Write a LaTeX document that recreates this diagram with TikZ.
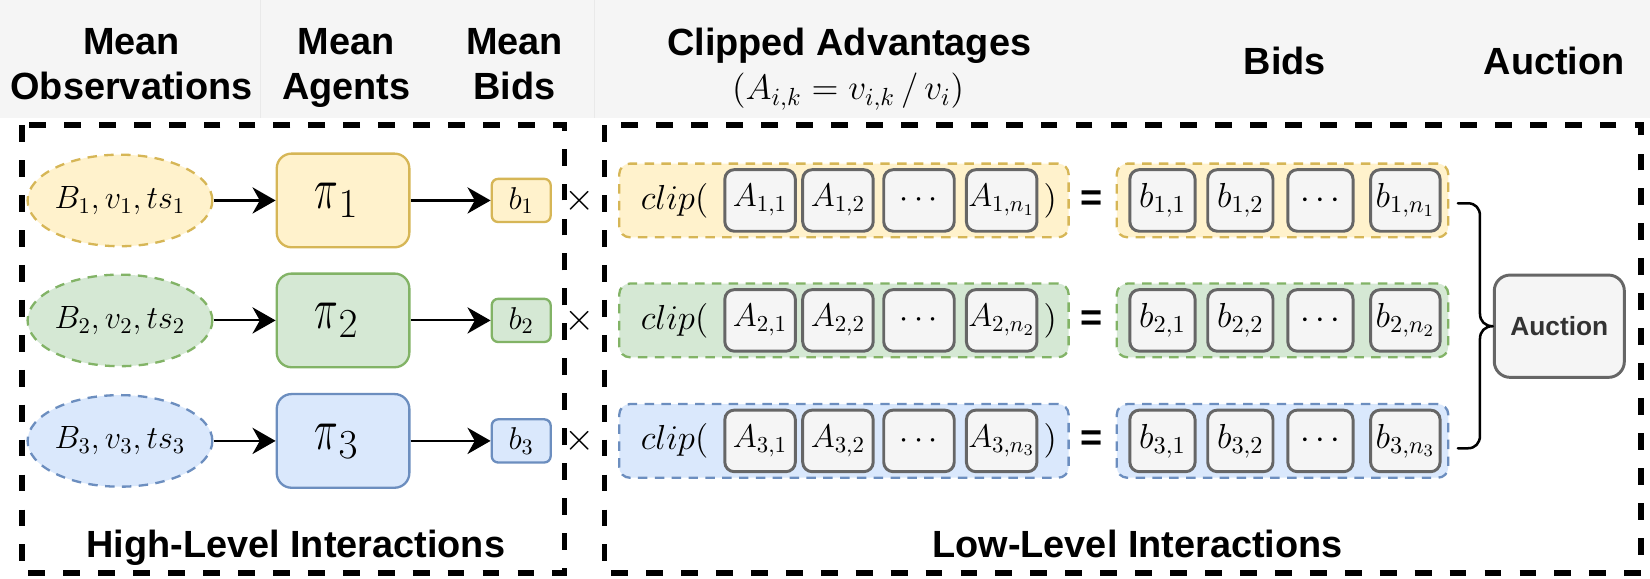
\RequirePackage{fix-cm}
\documentclass[tikz,border=0pt]{standalone}
\usepackage{graphicx}
\usepackage{fontspec}
\newfontfamily\labfont{Liberation Sans}
\usetikzlibrary{arrows.meta,calc,shapes.geometric}
\definecolor{yfill}{HTML}{FFF2CC}\definecolor{ydraw}{HTML}{D6B656}
\definecolor{gfill}{HTML}{D5E8D4}\definecolor{gdraw}{HTML}{82B366}
\definecolor{bfill}{HTML}{DAE8FC}\definecolor{bdraw}{HTML}{6C8EBF}
\definecolor{cellfill}{HTML}{F5F5F5}\definecolor{celldraw}{HTML}{666666}
\definecolor{hdrfill}{HTML}{F5F5F5}\definecolor{hdrline}{HTML}{E9E9E9}
\definecolor{auctxt}{HTML}{333333}
\newcommand{\narrowpi}{\scalebox{0.68}[1]{$\pi$}}
\tikzset{
  theme/.style={fill=#1fill, draw=#1draw},
  lbl/.style={font=\labfont\bfseries\fontsize{18pt}{21.35pt}\selectfont, align=center, inner sep=0pt},
  mathfont/.style={font=\fontsize{#1}{#1}\selectfont, inner sep=0pt},
  outerbox/.style={draw=black, line width=2.8pt, dash pattern=on 8pt off 8.6pt},
  thindash/.style={line width=1.1pt, dash pattern=on 4.5pt off 3.5pt},
  obs/.style={ellipse, thindash, minimum width=84.5pt, minimum height=43.5pt, inner sep=0pt, font=\fontsize{15.3pt}{18pt}\selectfont},
  agent/.style={rectangle, rounded corners=7pt, line width=1.1pt, minimum width=63pt, minimum height=44.5pt, inner sep=0pt, font=\fontsize{28pt}{30pt}\selectfont},
  mbid/.style={rectangle, rounded corners=3pt, line width=1.1pt, minimum width=28pt, minimum height=20.5pt, inner sep=0pt, font=\fontsize{15pt}{17pt}\selectfont},
  grp/.style={rectangle, rounded corners=5pt, thindash, minimum height=35pt, inner sep=0pt},
  cell/.style={rectangle, rounded corners=4.5pt, line width=1.4pt, draw=celldraw, fill=cellfill, minimum height=29.25pt, inner sep=0pt},
  acell/.style={cell, minimum width=33.5pt, font=\fontsize{15.5pt}{18pt}\selectfont},
  bcell/.style={cell, minimum width=31pt, font=\fontsize{16.5pt}{18pt}\selectfont},
  mtxt/.style={inner sep=0pt, font=\fontsize{16.5pt}{19pt}\selectfont},
  timesmark/.style={inner sep=0pt, font=\fontsize{18.5pt}{20pt}\selectfont},
  arr/.style={line width=1pt, -{Stealth[length=11pt,width=12.5pt,inset=3.5pt]}},
  brace/.style={line width=1.2pt, line join=round, line cap=round},
  auction/.style={rectangle, rounded corners=7.5pt, line width=1.4pt, draw=celldraw, fill=cellfill, minimum width=61.8pt, minimum height=48.6pt, inner sep=0pt, text=auctxt, font=\labfont\bfseries\fontsize{12.5pt}{14pt}\selectfont},
}
\begin{document}
\begin{tikzpicture}[x=0.5pt,y=-0.5pt]
\useasboundingbox (0,0) rectangle (1568,550);
\fill[white] (0,0) rectangle (1568,550);
\fill[hdrfill] (0,0) rectangle (1568,112.4);
\draw[hdrline, line width=0.6pt] (247.5,0) -- (247.5,112.4) (565,0) -- (565,112.4);
% header labels
\node[lbl] (hobs) at (125,60.8) {Mean\\Observations};
\node[lbl] (hag) at (329,64.5) {Mean\\Agents};
\node[lbl] (hmb) at (489,60.8) {Mean\\Bids};
\node[lbl] (hca) at (807,43.7) {Clipped Advantages};
\node[mathfont=16.8pt] (hfor) at (806,87) {$(A_{i,k} = v_{i,k}\,/\,v_i)$};
\node[lbl] (hbids) at (1221,57.5) {Bids};
\node[lbl] (hauc) at (1477,57.5) {Auction};
% outer boxes
\draw[outerbox] (20.7,119) rectangle (536.4,544.3);
\draw[outerbox] (574.5,119) rectangle (1559.6,544.3);
\node[lbl] (hli) at (281,521) {High-Level Interactions};
\node[lbl] (lli) at (1081,517) {Low-Level Interactions};
% rows
\foreach \i/\y/\c in {1/190.5/y, 2/304.5/g, 3/419/b}{
  \node[obs, theme=\c] (o\i) at (114,\y) {$B_\i, v_\i, ts_\i$};
  \node[agent, theme=\c] (p\i) at (326,\y) {\hspace*{-6pt}$\narrowpi_\i$};
  \node[mbid, theme=\c] (m\i) at (495.3,\y) {$b_\i$};
  \draw[arr] (o\i) -- (p\i);
  \draw[arr] (p\i) -- (m\i);
  \node[timesmark] (x\i) at (550.5,\y) {$\times$};
  \node[grp, theme=\c, minimum width=213.5pt] (cg\i) at (802,\y) {};
  \node[mtxt] (cl\i) at (641,\y) {$clip($};
  \node[acell] (a\i1) at (722.3,\y) {$A_{\i,1}$};
  \node[acell] (a\i2) at (796.3,\y) {$A_{\i,2}$};
  \node[acell] (a\i3) at (873.3,\y) {$\cdots$};
  \node[acell] (a\i4) at (951.9,\y) {$A_{\i,n_\i}$};
  \node[mtxt] (cr\i) at (998,\y) {$)$};
  \node[lbl] (eq\i) at (1037.5,\y) {=};
  \node[grp, theme=\c, minimum width=157.5pt] (bg\i) at (1218.8,\y) {};
  \node[bcell] (b\i1) at (1104.7,\y) {$b_{\i,1}$};
  \node[bcell] (b\i2) at (1178.7,\y) {$b_{\i,2}$};
  \node[bcell] (b\i3) at (1254.8,\y) {$\cdots$};
  \node[bcell, minimum width=33pt] (b\i4) at (1335.5,\y) {$b_{\i,n_\i}$};
}
% auction and brace
\node[auction] (auc) at (1481.8,310) {Auction};
\draw[brace] ($(bg1.east)+(8,2.7)$) -- (1395,193.2)
  .. controls (1402,193.2) and (1406.4,198) .. (1406.4,205) -- (1406.4,298)
  .. controls (1406.4,305) and (1411,310) .. (auc.west)
  .. controls (1411,310) and (1406.4,315) .. (1406.4,322) -- (1406.4,414)
  .. controls (1406.4,421) and (1402,426) .. (1395,426) -- ($(bg3.east)+(8,7)$);
\end{tikzpicture}
\end{document}
